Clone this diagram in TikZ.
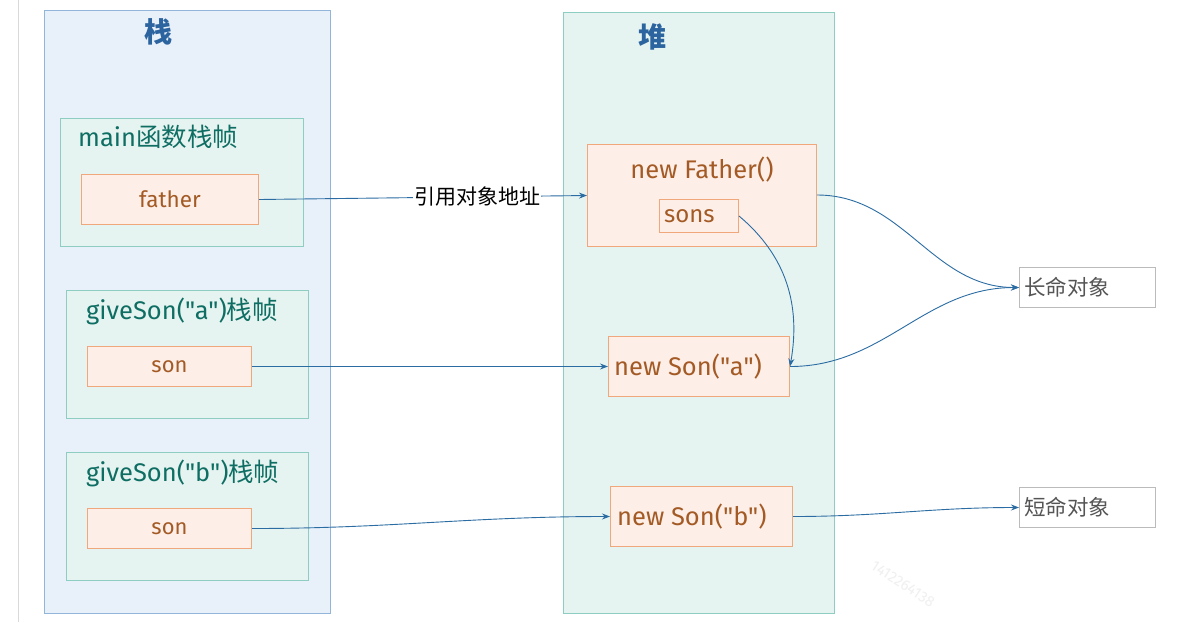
\documentclass[tikz,border=0pt]{standalone}
\usepackage{fontspec}
\setmainfont{Fira Sans}[Ligatures=TeXOff]
\newfontfamily\cjk{Noto Sans CJK SC}
\usetikzlibrary{arrows.meta}
\definecolor{stackfill}{HTML}{E8F0FA}
\definecolor{stackline}{HTML}{93B5DA}
\definecolor{heapfill}{HTML}{E6F4F1}
\definecolor{heapline}{HTML}{8ECDC2}
\definecolor{objfill}{HTML}{FDEEE8}
\definecolor{objline}{HTML}{F0A77C}
\definecolor{objtext}{HTML}{A35A24}
\definecolor{titleblue}{HTML}{2C64A0}
\definecolor{frametext}{HTML}{0F6E63}
\definecolor{arrowblue}{HTML}{2B6CA3}
\definecolor{grayline}{HTML}{BBBBBB}
\definecolor{graytext}{HTML}{555555}
\tikzset{
  region/.style={draw=#1line, fill=#1fill, line width=1pt, inner sep=0pt, anchor=north west},
  framebox/.style={draw=heapline, fill=heapfill, line width=1pt, inner sep=0pt, anchor=north west},
  objbox/.style={draw=objline, fill=objfill, line width=1pt, inner sep=0pt, anchor=north west, text=objtext},
  lifebox/.style={draw=grayline, fill=white, line width=1pt, inner sep=0pt, anchor=north west},
  regiontitle/.style={text=titleblue, font=\fontsize{28}{30}\selectfont\cjk\bfseries},
  frametitle/.style={text=frametext, anchor=west, inner sep=0pt, font=\fontsize{25.5}{28}\selectfont},
  objtitle/.style={text=objtext, font=\fontsize{25.5}{28}\selectfont},
  objleft/.style={text=objtext, anchor=west, inner sep=0pt, font=\fontsize{25.5}{28}\selectfont},
  lifetext/.style={text=graytext, anchor=west, inner sep=0pt, font=\fontsize{21.5}{24}\selectfont\cjk},
  link/.style={draw=arrowblue, line width=0.9pt, -{Stealth[length=8pt,width=6pt]}},
}
\begin{document}
\begin{tikzpicture}[x=1pt,y=-1pt]
\useasboundingbox (0,0) rectangle (1179,622);
\fill[white] (0,0) rectangle (1179,622);
\draw[draw=gray!30, line width=1pt] (18,0) -- (18,622);

% regions
\node[region=stack, minimum width=286pt, minimum height=603pt] (stack) at (44,10) {};
\node[region=heap, minimum width=271pt, minimum height=601pt] (heap) at (563,12) {};
\node[regiontitle] (stacklbl) at (158,32) {栈};
\node[regiontitle] (heaplbl) at (652,37) {堆};

% stack frames
\node[framebox, minimum width=243pt, minimum height=128pt] (mainf) at (60,118) {};
\node[frametitle] (mainlbl) at (78,137) {main{\cjk 函数栈帧}};
\node[objbox, minimum width=177pt, minimum height=50pt, font=\fontsize{22.5}{24}\selectfont] (father) at (81,174) {father};

\node[framebox, minimum width=242pt, minimum height=128pt] (gsa) at (66,290) {};
\node[frametitle] (gsalbl) at (86,311) {giveSon("a"){\cjk 栈帧}};
\node[objbox, minimum width=164pt, minimum height=40pt, font=\fontsize{22}{24}\selectfont] (sona) at (87,346) {son};

\node[framebox, minimum width=242pt, minimum height=128pt] (gsb) at (66,452) {};
\node[frametitle] (gsblbl) at (86,473) {giveSon("b"){\cjk 栈帧}};
\node[objbox, minimum width=164pt, minimum height=40pt, font=\fontsize{22}{24}\selectfont] (sonb) at (87,508) {son};

% heap objects
\node[objbox, minimum width=229pt, minimum height=102pt] (nfather) at (587,144) {};
\node[objtitle] (nfatherlbl) at (702,170) {new Father()};
\node[objbox, minimum width=79pt, minimum height=33pt] (sons) at (659,199) {};
\node[objleft, font=\fontsize{24}{26}\selectfont] (sonslbl) at (664,216) {sons};
\node[objbox, minimum width=181pt, minimum height=60pt] (nsona) at (608,336) {};
\node[objleft] (nsonalbl) at (614,367) {new Son("a")};
\node[objbox, minimum width=182pt, minimum height=60pt] (nsonb) at (610,486) {};
\node[objleft] (nsonblbl) at (617,517) {new Son("b")};

% lifetime boxes
\node[lifebox, minimum width=136pt, minimum height=40pt] (long) at (1019,267) {};
\node[lifetext] (longlbl) at (1024,287) {长命对象};
\node[lifebox, minimum width=136pt, minimum height=40pt] (short) at (1019,487) {};
\node[lifetext] (shortlbl) at (1024,507) {短命对象};

% watermark
\node[text=gray!12, rotate=-33, font=\fontsize{15}{16}\selectfont] (wm) at (903,584) {1412264138};

% connectors
\draw[link] (father.east) -- node[pos=0.665, fill=white, inner sep=1pt, text=black, font=\fontsize{21}{24}\selectfont\cjk] {引用对象地址} (nfather.west);
\draw[link] (sona.east) -- (nsona.west);
\draw[link] (sonb.east) to[out=0, in=180] (nsonb.west);
\draw[link] (nfather.east |- 0,195) to[out=0, in=180] (long.west);
\draw[link] (nsona.east) to[out=0, in=180] (long.west);
\draw[link] (sons.east) to[out=-40, in=80] (nsona.east);
\draw[link] (nsonb.east) to[out=0, in=180] (short.west);
\end{tikzpicture}
\end{document}
